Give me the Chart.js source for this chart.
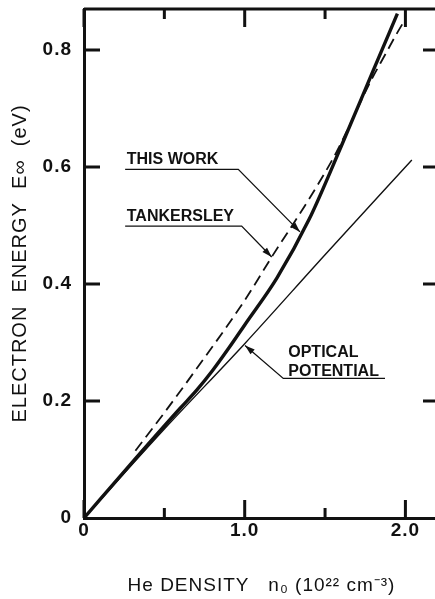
<!DOCTYPE html>
<html><head><meta charset="utf-8">
<script src="https://cdn.jsdelivr.net/npm/chart.js@4/dist/chart.umd.min.js"></script>
<style>html,body{margin:0;padding:0;background:#fff;overflow:hidden}canvas{display:block}</style>
</head><body>
<canvas id="c" width="442" height="599"></canvas>
<script>
// ---- data ----
const thisWorkDensity   = [0, 0.3, 0.6, 0.7, 0.8, 0.9, 1.0, 1.2, 1.4, 1.6, 1.8, 1.95];
const thisWorkEnergy    = [0, 0.095, 0.188, 0.218, 0.252, 0.29, 0.33, 0.41, 0.51, 0.635, 0.765, 0.862];
const tankersleyDensity = [0.32, 0.5, 0.7, 1.0, 1.17, 1.4, 1.57, 1.79, 1.87, 1.94, 2.0];
const tankersleyEnergy  = [0.115, 0.18, 0.255, 0.372, 0.447, 0.545, 0.625, 0.75, 0.79, 0.825, 0.853];
const opticalDensity    = [0, 0.5, 1.0, 1.5, 2.04];
const opticalEnergy     = [0, 0.152, 0.298, 0.45, 0.612];

const xTickValues = [0, 1, 2];
const xTickLabels = ['0', '1.0', '2.0'];
const xMinorTicks = [0.5, 1.5];
const yTickValues = [0, 0.2, 0.4, 0.6, 0.8];
const yTickLabels = ['0', '0.2', '0.4', '0.6', '0.8'];

const xTitle = 'He DENSITY   n\u2080 (10\u00B2\u00B2 cm\u207B\u00B3)';
const yTitle = 'ELECTRON  ENERGY  E\u221E  (eV)';

// callouts, in data coordinates
const callouts = [
  {lines: ['THIS WORK'], at: [0.266, 0.605], path: [[0.256, 0.596], [0.96, 0.596], [1.344, 0.489]]},
  {lines: ['TANKERSLEY'], at: [0.266, 0.508], path: [[0.256, 0.499], [0.981, 0.499], [1.168, 0.446]]},
  {lines: ['OPTICAL', 'POTENTIAL'], at: [1.271, 0.275], path: [[1.873, 0.2385], [1.24, 0.2385], [1.002, 0.295]]}
];

const pts = (xs, ys) => xs.map((x, i) => ({x, y: ys[i]}));
const INK = '#111';
const FONT = "'Liberation Sans', Arial, sans-serif";

// slightly spaced lettering for the axis text, as in the original drawing
const spacingPlugin = {
  id: 'spacing',
  beforeDraw(chart) { chart.ctx.letterSpacing = '1px'; },
  beforeDatasetsDraw(chart) { chart.ctx.letterSpacing = '0px'; }
};

const framePlugin = {
  id: 'frame',
  afterDatasetsDraw(chart) {
    const {ctx, chartArea: a, scales: {x, y}} = chart;
    ctx.save();
    ctx.letterSpacing = '0px';
    ctx.strokeStyle = INK; ctx.fillStyle = INK;
    ctx.lineCap = 'butt';
    ctx.lineWidth = 3;
    ctx.beginPath();
    ctx.moveTo(a.left, a.top); ctx.lineTo(a.right, a.top); ctx.lineTo(a.right, a.bottom);
    ctx.stroke();
    const major = 18, minor = 10, yt = 16;
    ctx.beginPath();
    xTickValues.concat(xMinorTicks).forEach(v => {
      const px = x.getPixelForValue(v);
      const len = xMinorTicks.includes(v) ? minor : major;
      ctx.moveTo(px, a.bottom); ctx.lineTo(px, a.bottom - len);
      ctx.moveTo(px, a.top); ctx.lineTo(px, a.top + len);
    });
    yTickValues.forEach(v => {
      if (v === 0) return;
      const py = y.getPixelForValue(v);
      ctx.moveTo(a.left, py); ctx.lineTo(a.left + yt, py);
      ctx.moveTo(a.right, py); ctx.lineTo(a.right - yt, py);
    });
    ctx.stroke();
    ctx.font = 'bold 16px ' + FONT;
    ctx.textAlign = 'left'; ctx.textBaseline = 'alphabetic';
    ctx.lineWidth = 1.3;
    callouts.forEach(c => {
      const tx = x.getPixelForValue(c.at[0]);
      const ty = y.getPixelForValue(c.at[1]);
      c.lines.forEach((t, i) => ctx.fillText(t, tx, ty + i * 19));
      const p = c.path.map(q => [x.getPixelForValue(q[0]), y.getPixelForValue(q[1])]);
      ctx.beginPath();
      ctx.moveTo(p[0][0], p[0][1]);
      for (let i = 1; i < p.length; i++) ctx.lineTo(p[i][0], p[i][1]);
      ctx.stroke();
      const [x1, y1] = p[p.length - 2], [x2, y2] = p[p.length - 1];
      const ang = Math.atan2(y2 - y1, x2 - x1);
      const L = 10, W = 3.2;
      ctx.beginPath();
      ctx.moveTo(x2, y2);
      ctx.lineTo(x2 - L * Math.cos(ang) + W * Math.sin(ang), y2 - L * Math.sin(ang) - W * Math.cos(ang));
      ctx.lineTo(x2 - L * Math.cos(ang) - W * Math.sin(ang), y2 - L * Math.sin(ang) + W * Math.cos(ang));
      ctx.closePath(); ctx.fill();
    });
    ctx.restore();
  }
};

new Chart(document.getElementById('c'), {
  type: 'line',
  data: {
    datasets: [
      {label: 'This work', data: pts(thisWorkDensity, thisWorkEnergy), borderColor: INK, borderWidth: 3.4, pointRadius: 0, cubicInterpolationMode: 'monotone', fill: false},
      {label: 'Tankersley', data: pts(tankersleyDensity, tankersleyEnergy), borderColor: INK, borderWidth: 1.8, borderDash: [11, 6], pointRadius: 0, cubicInterpolationMode: 'monotone', fill: false},
      {label: 'Optical potential', data: pts(opticalDensity, opticalEnergy), borderColor: INK, borderWidth: 1.4, pointRadius: 0, cubicInterpolationMode: 'monotone', fill: false}
    ]
  },
  options: {
    responsive: false,
    animation: false,
    devicePixelRatio: 1,
    layout: {padding: {top: 9, right: 3, left: 0, bottom: 0}},
    plugins: {legend: {display: false}, tooltip: {enabled: false}},
    scales: {
      x: {
        type: 'linear', min: 0, max: 2.209,
        afterBuildTicks: s => { s.ticks = xTickValues.map(v => ({value: v})); },
        afterFit: s => { s.height = 81; s.paddingLeft = 0; s.paddingRight = 0; },
        ticks: {callback: (v) => xTickLabels[xTickValues.indexOf(v)], color: INK, padding: 1, maxRotation: 0, autoSkip: false, font: {family: FONT, size: 19, weight: 'bold'}},
        grid: {display: false, drawTicks: false},
        border: {display: true, color: INK, width: 3},
        title: {display: true, text: xTitle, color: INK, padding: {top: 0, bottom: 2}, font: {family: FONT, size: 19}}
      },
      y: {
        type: 'linear', min: 0, max: 0.87,
        afterBuildTicks: s => { s.ticks = yTickValues.map(v => ({value: v})); },
        afterFit: s => { s.width = 84; s.paddingTop = 0; s.paddingBottom = 0; },
        ticks: {callback: (v) => yTickLabels[yTickValues.indexOf(v)], color: INK, padding: 12, autoSkip: false, font: {family: FONT, size: 19, weight: 'bold'}},
        grid: {display: false, drawTicks: false},
        border: {display: true, color: INK, width: 3},
        title: {display: true, text: yTitle, color: INK, padding: {top: 8, bottom: 0}, font: {family: FONT, size: 20}}
      }
    }
  },
  plugins: [spacingPlugin, framePlugin]
});
</script>
</body></html>
